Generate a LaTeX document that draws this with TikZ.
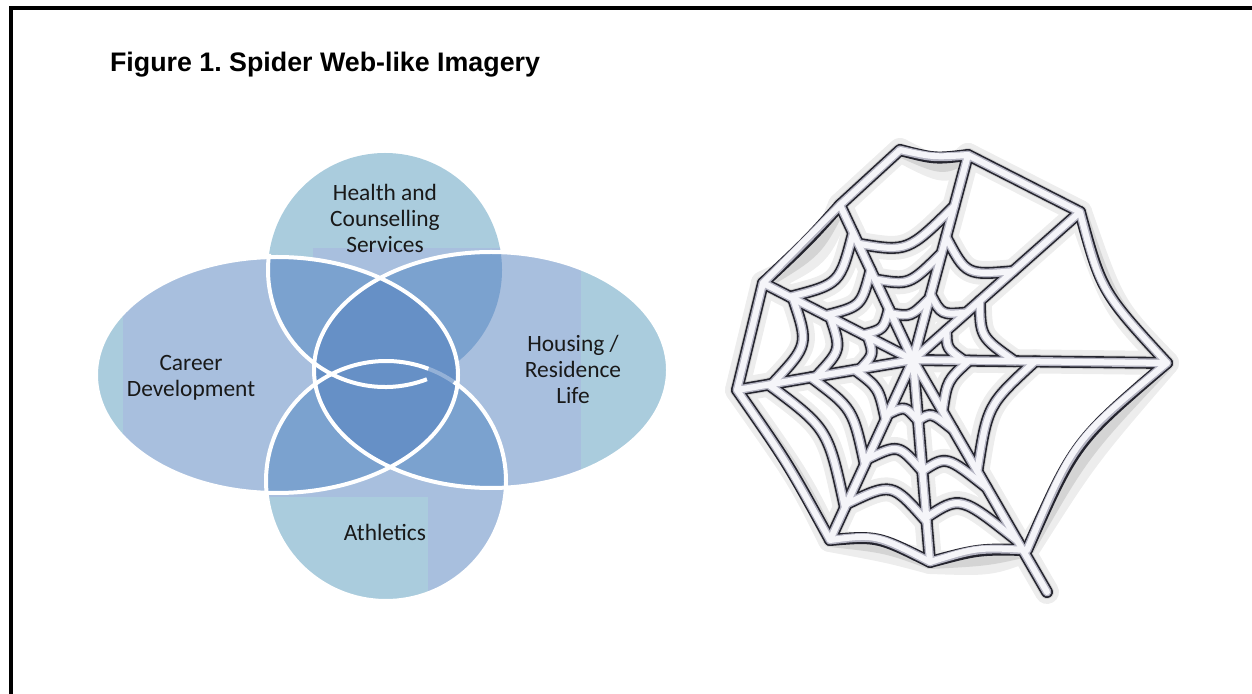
\documentclass[tikz,border=0pt]{standalone}
\usepackage{fontspec}
\setmainfont{Carlito}
\newfontfamily\titlefont{Liberation Sans}
\usetikzlibrary{calc}
\definecolor{venlight}{HTML}{AACCDD}
\definecolor{venlav}{HTML}{A8BFDE}
\definecolor{venmid}{HTML}{7BA2CF}
\definecolor{vendark}{HTML}{6690C6}
\definecolor{webdark}{HTML}{24242E}
\definecolor{webgrey}{HTML}{B4B4C2}
\definecolor{wcore}{HTML}{F5F5F9}
\tikzset{
	venntext/.style={font=\fontsize{11.7}{13}\selectfont, align=center, text=black!90},
	vline/.style={draw=white, line width=2pt},
	webhalo/.style={draw=black!7, line width=12pt, line cap=round, line join=round, shift={(12,16)}},
	webshadow/.style={draw=black!17, line width=7pt, line cap=round, line join=round, shift={(9,11)}},
	webedge/.style={draw=webdark, line width=6pt, line cap=round, line join=round, shift={(0.8,1)}},
	webrim/.style={draw=webgrey, line width=4.4pt, line cap=round, line join=round},
	webcore/.style={draw=wcore, line width=3pt, line cap=round, line join=round, shift={(-0.8,-0.8)}}
}
% every thread of the web, drawn in the style given
\newcommand{\webthreads}[1]{%
	\foreach \i in {1,...,9} {\draw[#1] (wc) -- (s\i);}
	\draw[#1] (s9) .. controls (807,240) .. (s8) -- (s7) .. controls (787,462) .. (s6)
		.. controls (877,535) .. (s5) .. controls (978,548) .. (wj)
		.. controls (1074,441) .. (s3) .. controls (1101,291) .. (s2)
		-- (s1) .. controls (934,158) .. (t1) -- cycle;
	\foreach \a/\b/\rr in {1/2/{0.32,0.6}, 2/3/{0.2,0.4}, 3/4/{0.22,0.48},
		4/5/{0.3,0.55,0.78}, 5/6/{0.3,0.55,0.8}, 6/7/{0.33,0.58,0.82},
		7/8/{0.3,0.55,0.8}, 8/9/{0.33,0.58,0.82}, 9/1/{0.3,0.52,0.75}} {
		\coordinate (wm) at ($(s\a)!0.5!(s\b)$);
		\foreach \f in \rr {
			\draw[#1] ($(wc)!\f!(s\a)$) .. controls ($(wc)!{\f*0.8}!(wm)$) .. ($(wc)!\f!(s\b)$);
		}
	}
}

\begin{document}
\begin{tikzpicture}[x=0.5pt,y=-0.5pt]
	\useasboundingbox (0,0) rectangle (1252,694);
	\draw[line width=2pt] (11,694) -- (11,8) -- (1252,8);
	\node[anchor=base west, font=\titlefont\bfseries\fontsize{13.4}{16}\selectfont] (title) at (103,72) {Figure 1.\ Spider Web-like Imagery};

	% venn
	\coordinate (hc) at (385,270);
	\coordinate (ac) at (386,481);
	\coordinate (cc) at (277,375);
	\coordinate (rc) at (491,370);
	\fill[venlight] (hc) circle[radius=117];
	\begin{scope}
		\clip (hc) circle[radius=117];
		\fill[venlav] (313,248) rectangle (505,400);
	\end{scope}
	\fill[venlav] (ac) circle[radius=120];
	\begin{scope}
		\clip (ac) circle[radius=120];
		\fill[venlight] (260,497) rectangle (428,610);
	\end{scope}
	\fill[venlav] (cc) ellipse[x radius=181, y radius=118];
	\begin{scope}
		\clip (cc) ellipse[x radius=181, y radius=118];
		\fill[venlight] (90,250) rectangle (123,500);
	\end{scope}
	\fill[venlav] (rc) ellipse[x radius=177, y radius=118];
	\begin{scope}
		\clip (rc) ellipse[x radius=177, y radius=118];
		\fill[venlight] (581,245) rectangle (675,495);
	\end{scope}
	\begin{scope}
		\clip (hc) circle[radius=117];
		\fill[venmid] (cc) ellipse[x radius=181, y radius=118];
		\fill[venmid] (rc) ellipse[x radius=177, y radius=118];
	\end{scope}
	\begin{scope}
		\clip (ac) circle[radius=120];
		\fill[venmid] (cc) ellipse[x radius=181, y radius=118];
		\fill[venmid] (rc) ellipse[x radius=177, y radius=118];
	\end{scope}
	\begin{scope}
		\clip (cc) ellipse[x radius=181, y radius=118];
		\fill[vendark] (rc) ellipse[x radius=177, y radius=118];
	\end{scope}
	\draw[vline] (cc) ellipse[x radius=181, y radius=118];
	\draw[vline] (rc) ellipse[x radius=177, y radius=118];
	\draw[vline] (hc) ++(69:117) arc[start angle=69, end angle=188, radius=117];
	\draw[vline] (ac) ++(-55.6:120) arc[start angle=-55.6, end angle=290.7, radius=120];
	\draw[vline, opacity=0.3] (ac) ++(-69.3:120) arc[start angle=-69.3, end angle=-55.6, radius=120];

	\node[venntext] (health) at (385,218) {Health and\\Counselling\\Services};
	\node[venntext] (career) at (191,378) {Career\\Development};
	\node[venntext] (housing) at (573,369) {Housing /\\Residence\\Life};
	\node[venntext] (athletics) at (385,532) {Athletics};

	% web
	\coordinate (wc) at (913,360);
	\coordinate (s1) at (968,155);
	\coordinate (s2) at (1080,212);
	\coordinate (s3) at (1167,363);
	\coordinate (s4) at (1047,592);
	\coordinate (s5) at (930,562);
	\coordinate (s6) at (830,540);
	\coordinate (s7) at (737,390);
	\coordinate (s8) at (763,283);
	\coordinate (s9) at (840,205);
	\coordinate (t1) at (900,150);
	\coordinate (wj) at (1027,550);
	\webthreads{webhalo}
	\webthreads{webshadow}
	\webthreads{webedge}
	\webthreads{webrim}
	\webthreads{webcore}
\end{tikzpicture}
\end{document}
